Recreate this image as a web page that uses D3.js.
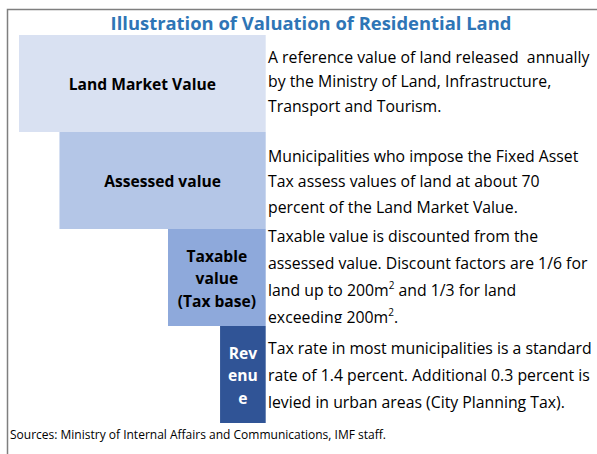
<!DOCTYPE html>
<html>
<head>
<meta charset="utf-8">
<script src="https://cdn.jsdelivr.net/npm/d3@7"></script>
<style>
  body { margin: 0; background: #fff; }
  svg { display: block; font-family: "Open Sans", "Noto Sans", sans-serif; }
  text { white-space: pre; }
</style>
</head>
<body>
<svg id="chart" width="597" height="454"></svg>
<script>
// stages of the valuation, from widest to narrowest
const stages = ['Land Market Value', 'Assessed value', 'Taxable value (Tax base)', 'Revenue']
// relative size of each stage
const stageValues = [100, 83.6, 39.6, 18.5]
const stageColors = ['#D9E1F2', '#B4C6E7', '#8EA9DB', '#305496']
const labelLines = [
  ['Land Market Value'],
  ['Assessed value'],
  ['Taxable', 'value', '(Tax base)'],
  ['Rev', 'enu', 'e']
]
// description lines; '^2' marks a superscript
const descLines = [
  ['A reference value of land released  annually', 'by the Ministry of Land, Infrastructure,', 'Transport and Tourism.'],
  ['Municipalities who impose the Fixed Asset', 'Tax assess values of land at about 70', 'percent of the Land Market Value.'],
  ['Taxable value is discounted from the', 'assessed value. Discount factors are 1/6 for', 'land up to 200m^2 and 1/3 for land', 'exceeding 200m^2.'],
  ['Tax rate in most municipalities is a standard', 'rate of 1.4 percent. Additional 0.3 percent is', 'levied in urban areas (City Planning Tax).']
]
const title = 'Illustration of Valuation of Residential Land'
const source = 'Sources: Ministry of Internal Affairs and Communications, IMF staff.'

const svg = d3.select('#chart')
const right = 265.7

const x = d3.scaleLinear().domain([0, 100]).range([0, 246.7])
const y = d3.scaleBand().domain(stages).range([35, 423])

const data = stages.map((s, i) => ({
  stage: s, value: stageValues[i], color: stageColors[i], label: labelLines[i], desc: descLines[i]
}))

// frame: top and left rule only
svg.append('path')
  .attr('d', 'M7.5,454 V9.5 H597')
  .attr('fill', 'none')
  .attr('stroke', '#7f7f7f')
  .attr('stroke-width', 1.5)

svg.append('text')
  .attr('x', 311)
  .attr('y', 30)
  .attr('text-anchor', 'middle')
  .attr('font-size', 18.4)
  .attr('font-weight', 'bold')
  .attr('fill', '#2E75B6')
  .text(title)

const defs = svg.append('defs')
defs.selectAll('clipPath')
  .data(data)
  .join('clipPath')
    .attr('id', (d, i) => 'clip-' + i)
  .append('rect')
    .attr('x', right)
    .attr('y', (d) => y(d.stage))
    .attr('width', 597 - right)
    .attr('height', y.bandwidth() - 3)

const rows = svg.selectAll('.row')
  .data(data)
  .join('g')
    .attr('class', 'row')

rows.append('rect')
  .attr('x', (d) => right - x(d.value))
  .attr('y', (d) => y(d.stage))
  .attr('width', (d) => x(d.value))
  .attr('height', y.bandwidth())
  .attr('fill', (d) => d.color)

rows.append('text')
  .attr('text-anchor', 'middle')
  .attr('font-size', 15.6)
  .attr('font-weight', 'bold')
  .attr('fill', (d, i) => i === 3 ? '#fff' : '#000')
  .each(function (d) {
    const cx = right - x(d.value) / 2
    const lh = 22.3
    const cy = y(d.stage) + y.bandwidth() / 2 + 1.5 - (d.label.length - 1) * lh / 2
    d3.select(this).selectAll('tspan')
      .data(d.label)
      .join('tspan')
        .attr('x', cx)
        .attr('y', (l, j) => cy + j * lh)
        .attr('dy', '0.35em')
        .text((l) => l)
  })

const descTop = [57, 156, 236, 348]
const descGap = [24.5, 25.5, 27, 27]

rows.append('text')
  .attr('clip-path', (d, i) => 'url(#clip-' + i + ')')
  .attr('font-size', 15.8)
  .attr('fill', '#000')
  .each(function (d, i) {
    const t = d3.select(this)
    d.desc.forEach((line, j) => {
      const parts = line.split('^2')
      const yy = descTop[i] + j * descGap[i] + 5.5
      parts.forEach((p, k) => {
        const ts = t.append('tspan').attr('y', yy).text(p)
        if (k === 0) ts.attr('x', 268)
        if (k < parts.length - 1) {
          t.append('tspan').attr('y', yy - 6.5).attr('font-size', 10).text('2')
        }
      })
    })
  })

svg.append('text')
  .attr('x', 10)
  .attr('y', 439)
  .attr('font-size', 12)
  .attr('fill', '#000')
  .text(source)
</script>
</body>
</html>
